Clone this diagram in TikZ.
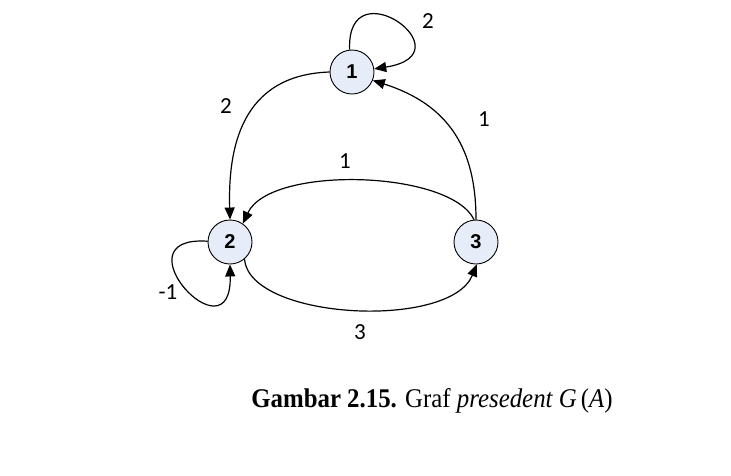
\documentclass[tikz,border=0pt]{standalone}
\usepackage{fontspec}
\usepackage{graphicx}
\setmainfont{Liberation Serif}
\newfontfamily\labelfont{Carlito}
\newfontfamily\vertexfont{Liberation Sans}
\usetikzlibrary{arrows.meta}
\definecolor{vertexfill}{RGB}{230,236,248}
\tikzset{
  vertex/.style={circle, draw=black, line width=0.9pt, fill=vertexfill,
    minimum size=44pt, inner sep=0pt, font=\vertexfont\bfseries\fontsize{20}{20}\selectfont},
  edge/.style={draw=black, line width=1.2pt, -{Triangle[length=12pt,width=10pt]}},
  weight/.style={font=\labelfont\fontsize{23}{23}\selectfont, inner sep=0pt}
}
\begin{document}
\begin{tikzpicture}[x=1pt,y=1pt]
  \useasboundingbox (0,0) rectangle (731,-475);
  \fill[white] (0,0) rectangle (731,-475);

  % vertices
  \node[vertex] (v1) at (352,-72) {1};
  \node[vertex] (v2) at (230,-242) {2};
  \node[vertex] (v3) at (476,-242) {3};

  % self loops
  \draw[edge] (v1.96) .. controls (346,35) and (470,-54) .. (v1.8);
  \draw[edge] (v2.178) .. controls (115,-235) and (232,-362) .. (v2.270);

  % edges between vertices
  \draw[edge] (v1.180) .. controls (240,-75) and (228,-150) .. (v2.90);
  \draw[edge] (v3.90) .. controls (476,-150) and (450,-105) .. (v1.-22);
  \draw[edge] (v3.95) .. controls (450,-170) and (270,-165) .. (v2.55);
  \draw[edge] (v2.-50) .. controls (250,-320) and (450,-330) .. (v3.-88);

  % weights
  \node[weight] (w11) at (428,-21) {2};
  \node[weight] (w12) at (226,-106) {2};
  \node[weight] (w31) at (484,-119) {1};
  \node[weight] (w32) at (345,-161) {1};
  \node[weight] (w23) at (360,-332) {3};
  \node[weight] (w22) at (168,-292) {-1};

  % caption
  \node[inner sep=0pt] (cap) at (432,-401)
    {\scalebox{0.92}[1]{\fontsize{27}{27}\selectfont\textbf{Gambar 2.15.} Graf \textit{presedent G}\,(\textit{A})}};
\end{tikzpicture}
\end{document}
